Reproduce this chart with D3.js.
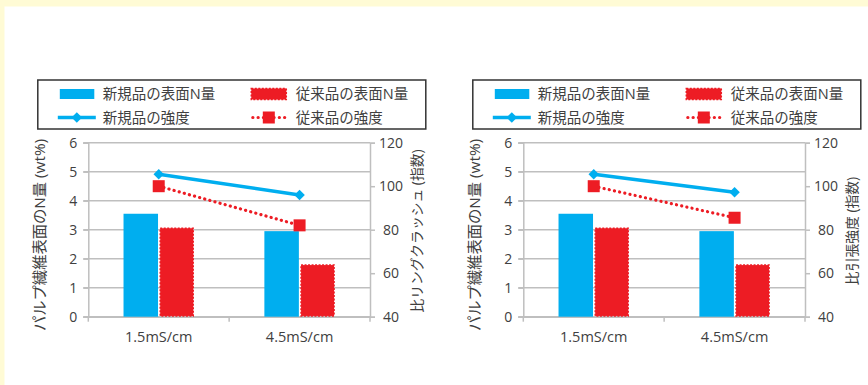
<!DOCTYPE html>
<html>
<head>
<meta charset="utf-8">
<script src="https://cdn.jsdelivr.net/npm/d3@7"></script>
<style>
  html, body { margin: 0; padding: 0; background: #fff; }
  svg, svg text { font-family: "Open Sans", "Noto Sans", "Noto Sans CJK JP", sans-serif; }
  svg { display: block; }
</style>
</head>
<body>
<svg id="chart" width="868" height="385"></svg>
<script>
// Categories (conductivity of the pulp slurry)
const categories = ["1.5mS/cm", "4.5mS/cm"];

// Surface N content of pulp fibre (wt%), left axis
const newSurfaceN = [3.55, 2.95];
const oldSurfaceN = [3.05, 1.78];

// Strength indices, right axis
const newRingCrush = [105.5, 96];
const oldRingCrush = [100, 82];
const newTensile = [105.5, 97.2];
const oldTensile = [100, 85.5];

// Axis ticks
const leftTicks = [0, 1, 2, 3, 4, 5, 6];
const rightTicks = [40, 60, 80, 100, 120];

// Text
const legendLabels = ["新規品の表面N量", "従来品の表面N量", "新規品の強度", "従来品の強度"];
const leftTitle = "パルプ繊維表面のN量 (wt%)";
const rightTitles = ["比リングクラッシュ (指数)", "比引張強度 (指数)"];

const BLUE = "#00aeef";
const RED = "#ed1c24";
const GRID = "#bfbfbf";
const TEXT = "#404040";

const svg = d3.select("#chart");

// Pale yellow frame along the top and left edges
svg.append("rect").attr("x", 0).attr("y", 0).attr("width", 868).attr("height", 6.5).attr("fill", "#fffbd5");
svg.append("rect").attr("x", 0).attr("y", 0).attr("width", 4.5).attr("height", 385).attr("fill", "#fffbd5");

const panels = [
  { x0: 88.3, newStr: newRingCrush, oldStr: oldRingCrush, rTitle: rightTitles[0] },
  { x0: 523.3, newStr: newTensile, oldStr: oldTensile, rTitle: rightTitles[1] }
];

const plotW = 281.7, plotTop = 142.7, plotBottom = 316.7;

panels.forEach(p => {
  const g = svg.append("g");
  const x = d3.scaleBand().domain(categories).range([p.x0, p.x0 + plotW]);
  const yL = d3.scaleLinear().domain([0, 6]).range([plotBottom, plotTop]);
  const yR = d3.scaleLinear().domain([40, 120]).range([plotBottom, plotTop]);

  // Horizontal gridlines with outward tick stubs on the left
  g.append("g").selectAll("line").data(leftTicks).join("line")
    .attr("x1", p.x0 - 5).attr("x2", p.x0 + plotW)
    .attr("y1", d => yL(d)).attr("y2", d => yL(d))
    .attr("stroke", GRID).attr("stroke-width", 1.5);

  // Left axis
  const la = g.append("g").attr("transform", `translate(${p.x0},0)`)
    .call(d3.axisLeft(yL).tickValues(leftTicks).tickFormat(d3.format("d")).tickSize(5).tickPadding(6));
  la.select(".domain").attr("stroke", GRID).attr("stroke-width", 1.5);
  la.selectAll(".tick line").attr("stroke", GRID).attr("stroke-width", 1.5);
  la.selectAll("text").attr("fill", TEXT).attr("font-size", 14);

  // Right axis
  const ra = g.append("g").attr("transform", `translate(${p.x0 + plotW},0)`)
    .call(d3.axisRight(yR).tickValues(rightTicks).tickFormat(d3.format("d")).tickSize(5).tickPadding(6));
  ra.select(".domain").attr("stroke", GRID).attr("stroke-width", 1.5);
  ra.selectAll(".tick line").attr("stroke", GRID).attr("stroke-width", 1.5);
  ra.selectAll("text").attr("fill", TEXT).attr("font-size", 14)
    .attr("text-anchor", "middle").attr("x", 21);

  // Bottom axis: ticks between categories
  const ba = g.append("g").attr("transform", `translate(0,${plotBottom})`)
    .call(d3.axisBottom(x).tickSize(0).tickPadding(15));
  ba.select(".domain").attr("stroke", GRID).attr("stroke-width", 1.5);
  ba.selectAll("text").attr("fill", TEXT).attr("font-size", 14.5);
  const bounds = [p.x0, p.x0 + x.bandwidth(), p.x0 + plotW];
  g.append("g").selectAll("line").data(bounds).join("line")
    .attr("x1", d => d).attr("x2", d => d)
    .attr("y1", plotBottom).attr("y2", plotBottom + 5)
    .attr("stroke", GRID).attr("stroke-width", 1.5);

  // Remove d3's default font attributes so the stylesheet font applies
  g.selectAll("g").attr("font-family", null);

  // Bars
  const barW = 34.5;
  g.append("g").selectAll("rect").data(categories).join("rect")
    .attr("x", d => x(d) + x.bandwidth() / 2 - barW - 0.7)
    .attr("width", barW)
    .attr("y", (d, i) => yL(newSurfaceN[i]))
    .attr("height", (d, i) => plotBottom - yL(newSurfaceN[i]))
    .attr("fill", BLUE);
  g.append("g").selectAll("rect").data(categories).join("rect")
    .attr("x", d => x(d) + x.bandwidth() / 2 + 1.5)
    .attr("width", barW - 1.5)
    .attr("y", (d, i) => yL(oldSurfaceN[i]))
    .attr("height", (d, i) => plotBottom - yL(oldSurfaceN[i]) - 0.75)
    .attr("fill", RED)
    .attr("stroke", RED).attr("stroke-width", 1.5)
    .attr("stroke-dasharray", "2,1.5");

  // Strength lines
  const cx = d => x(d) + x.bandwidth() / 2;
  const lineGen = d3.line().x((d, i) => cx(categories[i])).y(d => yR(d));
  g.append("path").datum(p.newStr).attr("d", lineGen)
    .attr("fill", "none").attr("stroke", BLUE).attr("stroke-width", 3.5);
  g.append("path").datum(p.oldStr).attr("d", lineGen)
    .attr("fill", "none").attr("stroke", RED).attr("stroke-width", 3.2)
    .attr("stroke-linecap", "round").attr("stroke-dasharray", "0.1,5.2");

  const diamond = d3.symbol().type(d3.symbolDiamond2).size(70);
  g.append("g").selectAll("path").data(p.newStr).join("path")
    .attr("d", diamond)
    .attr("transform", (d, i) => `translate(${cx(categories[i])},${yR(d)})`)
    .attr("fill", BLUE);
  g.append("g").selectAll("rect").data(p.oldStr).join("rect")
    .attr("x", (d, i) => cx(categories[i]) - 6)
    .attr("y", d => yR(d) - 6)
    .attr("width", 12).attr("height", 12)
    .attr("fill", RED);

  // Axis titles
  g.append("text")
    .attr("transform", `translate(${p.x0 - 43},235) rotate(-90)`)
    .attr("text-anchor", "middle").attr("fill", TEXT).attr("font-size", 15.3)
    .text(leftTitle);
  g.append("text")
    .attr("transform", `translate(${p.x0 + plotW + 52},231) rotate(-90)`)
    .attr("text-anchor", "middle").attr("fill", TEXT).attr("font-size", 13.8)
    .text(p.rTitle);

  // Legend
  const lx = p.x0 - 50.5, ly = 80;
  const lg = g.append("g");
  lg.append("rect").attr("x", lx).attr("y", ly).attr("width", 388).attr("height", 49)
    .attr("fill", "#fff").attr("stroke", "#333").attr("stroke-width", 1.5);
  const col1 = lx + 22, col2 = lx + 213;
  const row1 = ly + 14, row2 = ly + 37.5;
  // swatches
  lg.append("rect").attr("x", col1).attr("y", row1 - 5).attr("width", 34.5).attr("height", 10).attr("fill", BLUE);
  lg.append("rect").attr("x", col2 + 0.5).attr("y", row1 - 5.5).attr("width", 35).attr("height", 11)
    .attr("fill", RED).attr("stroke", RED).attr("stroke-width", 1.5).attr("stroke-dasharray", "2,1.5");
  lg.append("line").attr("x1", col1 - 2).attr("x2", col1 + 36).attr("y1", row2).attr("y2", row2)
    .attr("stroke", BLUE).attr("stroke-width", 3.5);
  lg.append("path").attr("d", diamond).attr("transform", `translate(${col1 + 17},${row2})`).attr("fill", BLUE);
  lg.append("line").attr("x1", col2 + 2).attr("x2", col2 + 34).attr("y1", row2).attr("y2", row2)
    .attr("stroke", RED).attr("stroke-width", 3.2).attr("stroke-linecap", "round").attr("stroke-dasharray", "0.1,5.2");
  lg.append("rect").attr("x", col2 + 12).attr("y", row2 - 6).attr("width", 12).attr("height", 12).attr("fill", RED);
  // labels
  const lpos = [[col1 + 43, row1], [col2 + 45, row1], [col1 + 43, row2], [col2 + 45, row2]];
  lg.selectAll("text").data(legendLabels).join("text")
    .attr("x", (d, i) => lpos[i][0]).attr("y", (d, i) => lpos[i][1])
    .attr("dy", "0.35em").attr("fill", TEXT).attr("font-size", 14.5)
    .text(d => d);
});
</script>
</body>
</html>
